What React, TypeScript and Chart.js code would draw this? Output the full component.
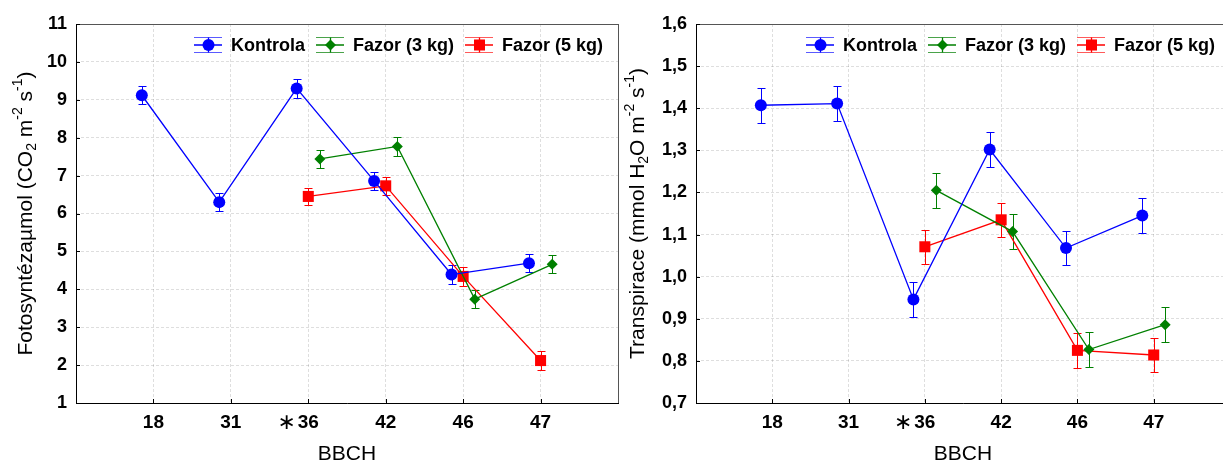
import React, { useEffect, useRef } from "react";
import { Chart, registerables } from "chart.js";

Chart.register(...registerables);

// ---------- data ----------
const bbchLabels = ["18", "31", "∗36", "42", "46", "47"];
const xAxisTitle = "BBCH";
const seriesNames = ["Kontrola", "Fazor (3 kg)", "Fazor (5 kg)"];
const seriesColors = ["#0000ff", "#008000", "#ff0000"];
const seriesCapColors = ["#5a5aff", "#4aa34a", "#ff5a5a"];
const seriesShapes = ["circle", "rectRot", "rect"];
const seriesRadii = [6, 5.5, 7.8];
const seriesOffsets = [-0.15, 0.15, 0];

const photoKontrola = [9.12, 6.3, 9.3, 6.86, 4.39, 4.69];
const photoKontrolaErr = [0.24, 0.24, 0.24, 0.24, 0.24, 0.24];
const photoFazor3 = [null, null, 7.44, 7.77, 3.74, 4.66];
const photoFazor3Err = [null, null, 0.24, 0.24, 0.24, 0.24];
const photoFazor5 = [null, null, 6.45, 6.73, 4.34, 2.12];
const photoFazor5Err = [null, null, 0.22, 0.24, 0.24, 0.25];
const photoYTicks = [1, 2, 3, 4, 5, 6, 7, 8, 9, 10, 11];
const photoYTitle: [string, number][] = [
  ["Fotosyntézaµmol (CO", 0],
  ["2", -1],
  [" m", 0],
  ["-2", 1],
  [" s", 0],
  ["-1", 1],
  [")", 0],
];

const transKontrola = [1.407, 1.411, 0.946, 1.302, 1.068, 1.145];
const transKontrolaErr = [0.041, 0.041, 0.041, 0.041, 0.041, 0.041];
const transFazor3 = [null, null, 1.205, 1.107, 0.827, 0.886];
const transFazor3Err = [null, null, 0.041, 0.041, 0.041, 0.041];
const transFazor5 = [null, null, 1.071, 1.135, 0.825, 0.814];
const transFazor5Err = [null, null, 0.041, 0.041, 0.041, 0.041];
const transYTicks = [0.7, 0.8, 0.9, 1.0, 1.1, 1.2, 1.3, 1.4, 1.5, 1.6];
const transYTitle: [string, number][] = [
  ["Transpirace (mmol H", 0],
  ["2", -1],
  ["O m", 0],
  ["-2", 1],
  [" s", 0],
  ["-1", 1],
  [")", 0],
];

// ---------- styling ----------
const FONT = "'Liberation Sans', Arial, sans-serif";
const GRID = "rgba(0,0,0,0.13)";
const H = 465;
const TOP = 24;
const BOTTOM = 403;

function drawMarker(ctx: CanvasRenderingContext2D, shape: string, x: number, y: number, r: number, color: string) {
  ctx.save();
  ctx.fillStyle = color;
  ctx.beginPath();
  if (shape === "circle") {
    ctx.arc(x, y, r, 0, Math.PI * 2);
  } else if (shape === "rectRot") {
    ctx.moveTo(x - r, y);
    ctx.lineTo(x, y - r);
    ctx.lineTo(x + r, y);
    ctx.lineTo(x, y + r);
    ctx.closePath();
  } else {
    const s = r * Math.SQRT1_2;
    ctx.rect(x - s, y - s, 2 * s, 2 * s);
  }
  ctx.fill();
  ctx.restore();
}

type PanelCfg = {
  values: (number | null)[][];
  errors: (number | null)[][];
  yTicks: number[];
  yFmt: (v: number) => string;
  yTitle: [string, number][];
  axisWidth: number;
  padRight: number;
};

function makePlugin(cfg: PanelCfg) {
  return {
    id: "panelDecor",
    beforeDatasetsDraw(chart: any) {
      const ctx: CanvasRenderingContext2D = chart.ctx;
      const xs = chart.scales.x;
      const ys = chart.scales.y;
      ctx.save();
      ctx.lineWidth = 1;
      cfg.values.forEach((vals, s) => {
        ctx.strokeStyle = seriesColors[s];
        vals.forEach((v, i) => {
          const e = cfg.errors[s][i];
          if (v == null || e == null) return;
          const x = Math.round(xs.getPixelForValue(i + seriesOffsets[s])) + 0.5;
          const yt = Math.round(ys.getPixelForValue(v + e)) + 0.5;
          const yb = Math.round(ys.getPixelForValue(v - e)) + 0.5;
          ctx.beginPath();
          ctx.moveTo(x, yt);
          ctx.lineTo(x, yb);
          ctx.moveTo(x - 4, yt);
          ctx.lineTo(x + 4, yt);
          ctx.moveTo(x - 4, yb);
          ctx.lineTo(x + 4, yb);
          ctx.stroke();
        });
      });
      ctx.restore();
    },
    afterDraw(chart: any) {
      const ctx: CanvasRenderingContext2D = chart.ctx;
      const { left, right, top, bottom } = chart.chartArea;
      const xs = chart.scales.x;
      const ys = chart.scales.y;
      ctx.save();
      // frame
      ctx.lineWidth = 1;
      ctx.strokeStyle = "#555";
      ctx.beginPath();
      ctx.moveTo(left, top + 0.5);
      ctx.lineTo(right, top + 0.5);
      ctx.moveTo(right + 0.5, top);
      ctx.lineTo(right + 0.5, bottom);
      ctx.stroke();
      ctx.strokeStyle = "#000";
      ctx.beginPath();
      ctx.moveTo(left + 0.5, top);
      ctx.lineTo(left + 0.5, bottom + 0.5);
      ctx.lineTo(right + 1, bottom + 0.5);
      ctx.stroke();
      // inward tick marks
      ctx.beginPath();
      cfg.yTicks.forEach((v) => {
        const y = Math.round(ys.getPixelForValue(v)) + 0.5;
        ctx.moveTo(left, y);
        ctx.lineTo(left + 4, y);
      });
      bbchLabels.forEach((_, i) => {
        const x = Math.round(xs.getPixelForValue(i)) + 0.5;
        ctx.moveTo(x, bottom);
        ctx.lineTo(x, bottom - 4);
      });
      ctx.stroke();

      // x labels
      ctx.fillStyle = "#000";
      ctx.textBaseline = "middle";
      ctx.textAlign = "center";
      bbchLabels.forEach((lab, i) => {
        const x = xs.getPixelForValue(i);
        const y = bottom + 20;
        ctx.font = `bold 19px ${FONT}`;
        if (lab.startsWith("∗")) {
          const num = lab.slice(1);
          const w = ctx.measureText(num).width;
          ctx.fillText(num, x, y);
          ctx.font = `22px 'DejaVu Sans', sans-serif`;
          ctx.fillText("∗", x - w / 2 - 11, y);
        } else {
          ctx.fillText(lab, x, y);
        }
      });
      // x title
      ctx.font = `21px ${FONT}`;
      ctx.fillText(xAxisTitle, (left + right) / 2, 454);

      // y title (rich text)
      ctx.save();
      ctx.translate(26, (top + bottom) / 2);
      ctx.rotate(-Math.PI / 2);
      ctx.textAlign = "left";
      const fontFor = (k: number) => (k === 0 ? `21px ${FONT}` : `14px ${FONT}`);
      let total = 0;
      cfg.yTitle.forEach(([t, k]) => {
        ctx.font = fontFor(k);
        total += ctx.measureText(t).width;
      });
      let tx = -total / 2;
      cfg.yTitle.forEach(([t, k]) => {
        ctx.font = fontFor(k);
        const dy = k === -1 ? 6 : k === 1 ? -8 : 0;
        ctx.fillText(t, tx, dy);
        tx += ctx.measureText(t).width;
      });
      ctx.restore();

      // legend
      ctx.font = `bold 18px ${FONT}`;
      const symW = 28;
      const gap = 9;
      const itemGap = 11;
      const widths = seriesNames.map((n) => ctx.measureText(n).width);
      const totalW = widths.reduce((a, w) => a + symW + gap + w, 0) + itemGap * (seriesNames.length - 1);
      let lx = right - 15 - totalW;
      const cy = top + 21;
      ctx.textAlign = "left";
      seriesNames.forEach((n, s) => {
        const x0 = Math.round(lx);
        const cx = x0 + symW / 2 + 0.5;
        ctx.lineWidth = 1;
        ctx.strokeStyle = seriesCapColors[s];
        ctx.beginPath();
        ctx.moveTo(x0, cy - 7.5);
        ctx.lineTo(x0 + symW, cy - 7.5);
        ctx.moveTo(x0, cy + 7.5);
        ctx.lineTo(x0 + symW, cy + 7.5);
        ctx.stroke();
        ctx.strokeStyle = seriesColors[s];
        ctx.lineWidth = 1.3;
        ctx.beginPath();
        ctx.moveTo(cx, cy - 7.5);
        ctx.lineTo(cx, cy + 7.5);
        ctx.moveTo(x0, cy);
        ctx.lineTo(x0 + symW, cy);
        ctx.stroke();
        drawMarker(ctx, seriesShapes[s], cx, cy, seriesRadii[s], seriesColors[s]);
        ctx.fillStyle = "#000";
        ctx.fillText(n, x0 + symW + gap, cy + 1);
        lx += symW + gap + widths[s] + itemGap;
      });
      ctx.restore();
    },
  };
}

function buildChart(canvas: HTMLCanvasElement, cfg: PanelCfg) {
  const yMin = cfg.yTicks[0];
  const yMax = cfg.yTicks[cfg.yTicks.length - 1];
  return new Chart(canvas, {
    type: "scatter",
    data: {
      datasets: seriesNames.map((name, s) => ({
        label: name,
        data: cfg.values[s]
          .map((v, i) => (v == null ? null : { x: i + seriesOffsets[s], y: v }))
          .filter((p) => p !== null) as { x: number; y: number }[],
        showLine: true,
        borderColor: seriesColors[s],
        backgroundColor: seriesColors[s],
        borderWidth: 1.3,
        pointStyle: seriesShapes[s] as any,
        pointRadius: seriesRadii[s],
        pointBorderWidth: 0,
        pointBackgroundColor: seriesColors[s],
        pointBorderColor: seriesColors[s],
      })),
    },
    options: {
      animation: false,
      responsive: false,
      devicePixelRatio: 1,
      layout: { padding: { left: 0, top: TOP, right: cfg.padRight, bottom: 0 } },
      plugins: {
        legend: { display: false },
        tooltip: { enabled: false },
      },
      scales: {
        x: {
          type: "linear",
          min: -1,
          max: 6,
          afterBuildTicks: (s: any) => {
            s.ticks = bbchLabels.map((_, i) => ({ value: i }));
          },
          ticks: { display: false },
          grid: { color: GRID, drawTicks: false },
          border: { display: false, dash: [3, 2] },
          afterFit: (s: any) => {
            s.height = H - BOTTOM;
          },
        },
        y: {
          type: "linear",
          min: yMin,
          max: yMax,
          afterBuildTicks: (s: any) => {
            s.ticks = cfg.yTicks.map((v) => ({ value: v }));
          },
          ticks: {
            callback: (v: any) => cfg.yFmt(Number(v)),
            font: { family: FONT, size: 18, weight: "bold" },
            color: "#000",
            padding: 9,
            autoSkip: false,
          },
          grid: { color: GRID, drawTicks: false },
          border: { display: false, dash: [3, 2] },
          afterFit: (s: any) => {
            s.width = cfg.axisWidth;
          },
        },
      },
    } as any,
    plugins: [makePlugin(cfg)],
  });
}

export default function App() {
  const leftRef = useRef<HTMLCanvasElement>(null);
  const rightRef = useRef<HTMLCanvasElement>(null);

  useEffect(() => {
    const c1 = buildChart(leftRef.current!, {
      values: [photoKontrola, photoFazor3, photoFazor5],
      errors: [photoKontrolaErr, photoFazor3Err, photoFazor5Err],
      yTicks: photoYTicks,
      yFmt: (v) => String(Math.round(v)),
      yTitle: photoYTitle,
      axisWidth: 76,
      padRight: 12,
    });
    const c2 = buildChart(rightRef.current!, {
      values: [transKontrola, transFazor3, transFazor5],
      errors: [transKontrolaErr, transFazor3Err, transFazor5Err],
      yTicks: transYTicks,
      yFmt: (v) => v.toFixed(1).replace(".", ","),
      yTitle: transYTitle,
      axisWidth: 84,
      padRight: 22,
    });
    return () => {
      c1.destroy();
      c2.destroy();
    };
  }, []);

  return (
    <div
      style={{
        position: "fixed",
        left: 0,
        top: 0,
        width: 1223,
        height: 465,
        overflow: "hidden",
        background: "#fff",
      }}
    >
      <div style={{ position: "absolute", left: 0, top: 0, width: 630, height: 465 }}>
        <canvas ref={leftRef} width={630} height={465} style={{ display: "block" }} />
      </div>
      <div style={{ position: "absolute", left: 612, top: 0, width: 640, height: 465 }}>
        <canvas ref={rightRef} width={640} height={465} style={{ display: "block" }} />
      </div>
    </div>
  );
}
